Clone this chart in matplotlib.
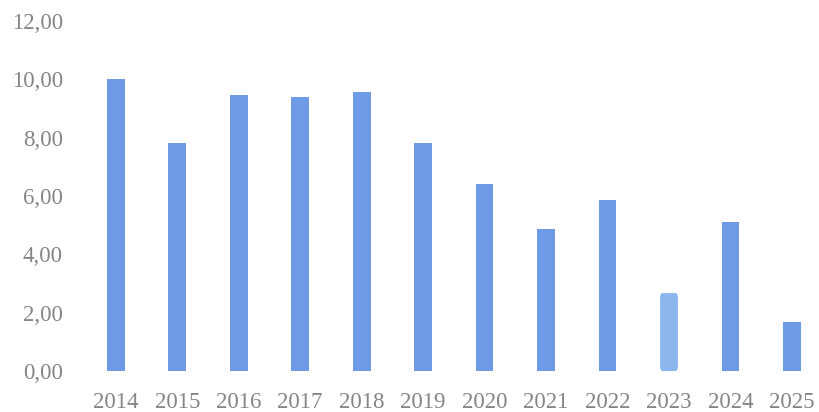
import numpy as np
import matplotlib.pyplot as plt
from matplotlib.patches import FancyBboxPatch

years = ['2014', '2015', '2016', '2017', '2018', '2019',
         '2020', '2021', '2022', '2023', '2024', '2025']
values = [10.0, 7.81, 9.47, 9.41, 9.58, 7.81,
          6.40, 4.88, 5.87, 2.67, 5.12, 1.69]
yticks = [0, 2, 4, 6, 8, 10, 12]

bar_color = '#6f9be6'
light_color = '#8cb5ee'
text_color = '#858585'

fig = plt.figure(figsize=(8.19, 4.12), dpi=100)
ax = fig.add_axes([85 / 819, 1 - 371 / 412, (819 - 85) / 819, 350 / 412])

x = np.arange(len(years))
bars = ax.bar(x, values, width=0.29, color=bar_color)

# 2023 is drawn lighter with slightly rounded corners
b = bars[9]
b.set_visible(False)
ax.add_patch(FancyBboxPatch((b.get_x(), 0), b.get_width(), b.get_height(),
                            boxstyle='round,pad=0,rounding_size=0.04',
                            mutation_aspect=1 / 0.25,
                            color=light_color, linewidth=0))

ax.set_xlim(-0.5, (819 - 116) / 61.45)
ax.set_ylim(0, 12)
ax.set_xticks(x)
ax.set_xticklabels(years)
ax.set_yticks(yticks)
ax.set_yticklabels([('%.2f' % v).replace('.', ',') for v in yticks])

for s in ax.spines.values():
    s.set_visible(False)
ax.tick_params(length=0, labelsize=16.5, labelcolor=text_color)
ax.tick_params(axis='y', pad=16)
ax.tick_params(axis='x', pad=15)
for lab in ax.get_xticklabels() + ax.get_yticklabels():
    lab.set_family('Liberation Serif')

fig.savefig('out.png', dpi=100)
